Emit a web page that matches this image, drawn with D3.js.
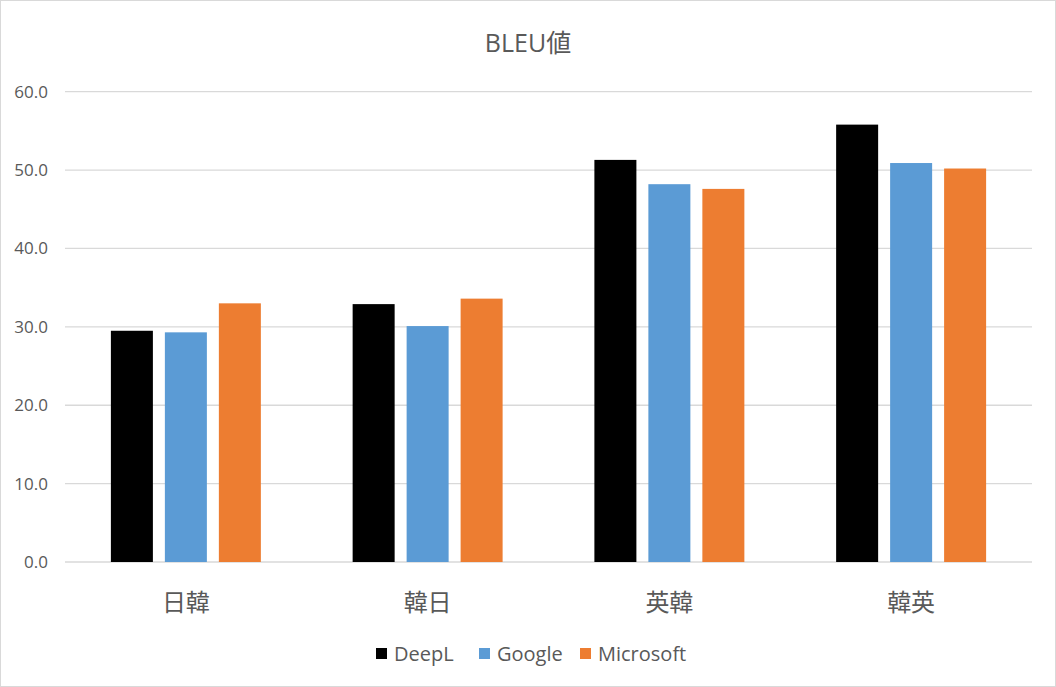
<!DOCTYPE html>
<html><head><meta charset="utf-8">
<script src="https://cdn.jsdelivr.net/npm/d3@7"></script>
<style>
body{margin:0;background:#fff;}
text{font-family:"Open Sans","Noto Sans CJK JP",sans-serif;}
</style></head><body>
<svg id="chart" width="1056" height="687"></svg>
<script>
const categories = ["日韓","韓日","英韓","韓英"];
const seriesNames = ["DeepL","Google","Microsoft"];
const deepl = [29.5, 32.9, 51.3, 55.8];
const google = [29.3, 30.1, 48.2, 50.9];
const microsoft = [33.0, 33.6, 47.6, 50.2];
const colors = ["#000000","#5b9bd5","#ed7d31"];
const yTicks = [0,10,20,30,40,50,60];
const title = "BLEU値";

const values = [deepl, google, microsoft];
const svg = d3.select("#chart");
svg.append("rect").attr("x",0.5).attr("y",0.5).attr("width",1055).attr("height",686)
  .attr("fill","#fff").attr("stroke","#d9d9d9");

const y = d3.scaleLinear().domain([0,60]).range([562,91.7]);
const x0 = d3.scaleBand().domain(categories).range([65,1032]);
const x1 = d3.scaleBand().domain(seriesNames).range([0,x0.bandwidth()]).paddingInner(0.222).paddingOuter(0.85);

// gridlines
svg.append("g").selectAll("line").data(yTicks).join("line")
  .attr("x1",65).attr("x2",1032).attr("y1",d=>y(d)).attr("y2",d=>y(d))
  .attr("stroke","#d9d9d9").attr("stroke-width",1.3);

// y labels
const yAxis = d3.axisLeft(y).tickValues(yTicks).tickFormat(d3.format(".1f")).tickSize(0).tickPadding(0);
const gy = svg.append("g").attr("transform","translate(48,0)").call(yAxis);
gy.select(".domain").remove();
gy.selectAll("text").attr("font-size",17).attr("fill","#595959");

// bars
const groups = svg.append("g").selectAll("g").data(categories).join("g")
  .attr("transform",d=>`translate(${x0(d)},0)`);
groups.selectAll("rect").data((c,i)=>seriesNames.map((s,j)=>({s,v:values[j][i],j})))
  .join("rect")
  .attr("x",d=>x1(d.s)).attr("width",x1.bandwidth())
  .attr("y",d=>y(d.v)).attr("height",d=>y(0)-y(d.v))
  .attr("fill",d=>colors[d.j]);

// x labels
const xAxis = d3.axisBottom(x0).tickSize(0).tickPadding(0);
const gx = svg.append("g").attr("transform","translate(0,611)").call(xAxis);
gx.select(".domain").remove();
gx.selectAll("text").attr("font-size",24).attr("fill","#595959").attr("dy","0");

// title
svg.append("text").attr("x",528).attr("y",52).attr("text-anchor","middle")
  .attr("font-size",25).attr("fill","#595959").text(title);

// legend
const legX = [376,479,580];
const leg = svg.append("g").selectAll("g").data(seriesNames).join("g")
  .attr("transform",(d,i)=>`translate(${legX[i]},648)`);
leg.append("rect").attr("width",11).attr("height",11).attr("fill",(d,i)=>colors[i]);
leg.append("text").attr("x",18).attr("y",13).attr("font-size",20).attr("fill","#595959").text(d=>d);
</script>
</body></html>
